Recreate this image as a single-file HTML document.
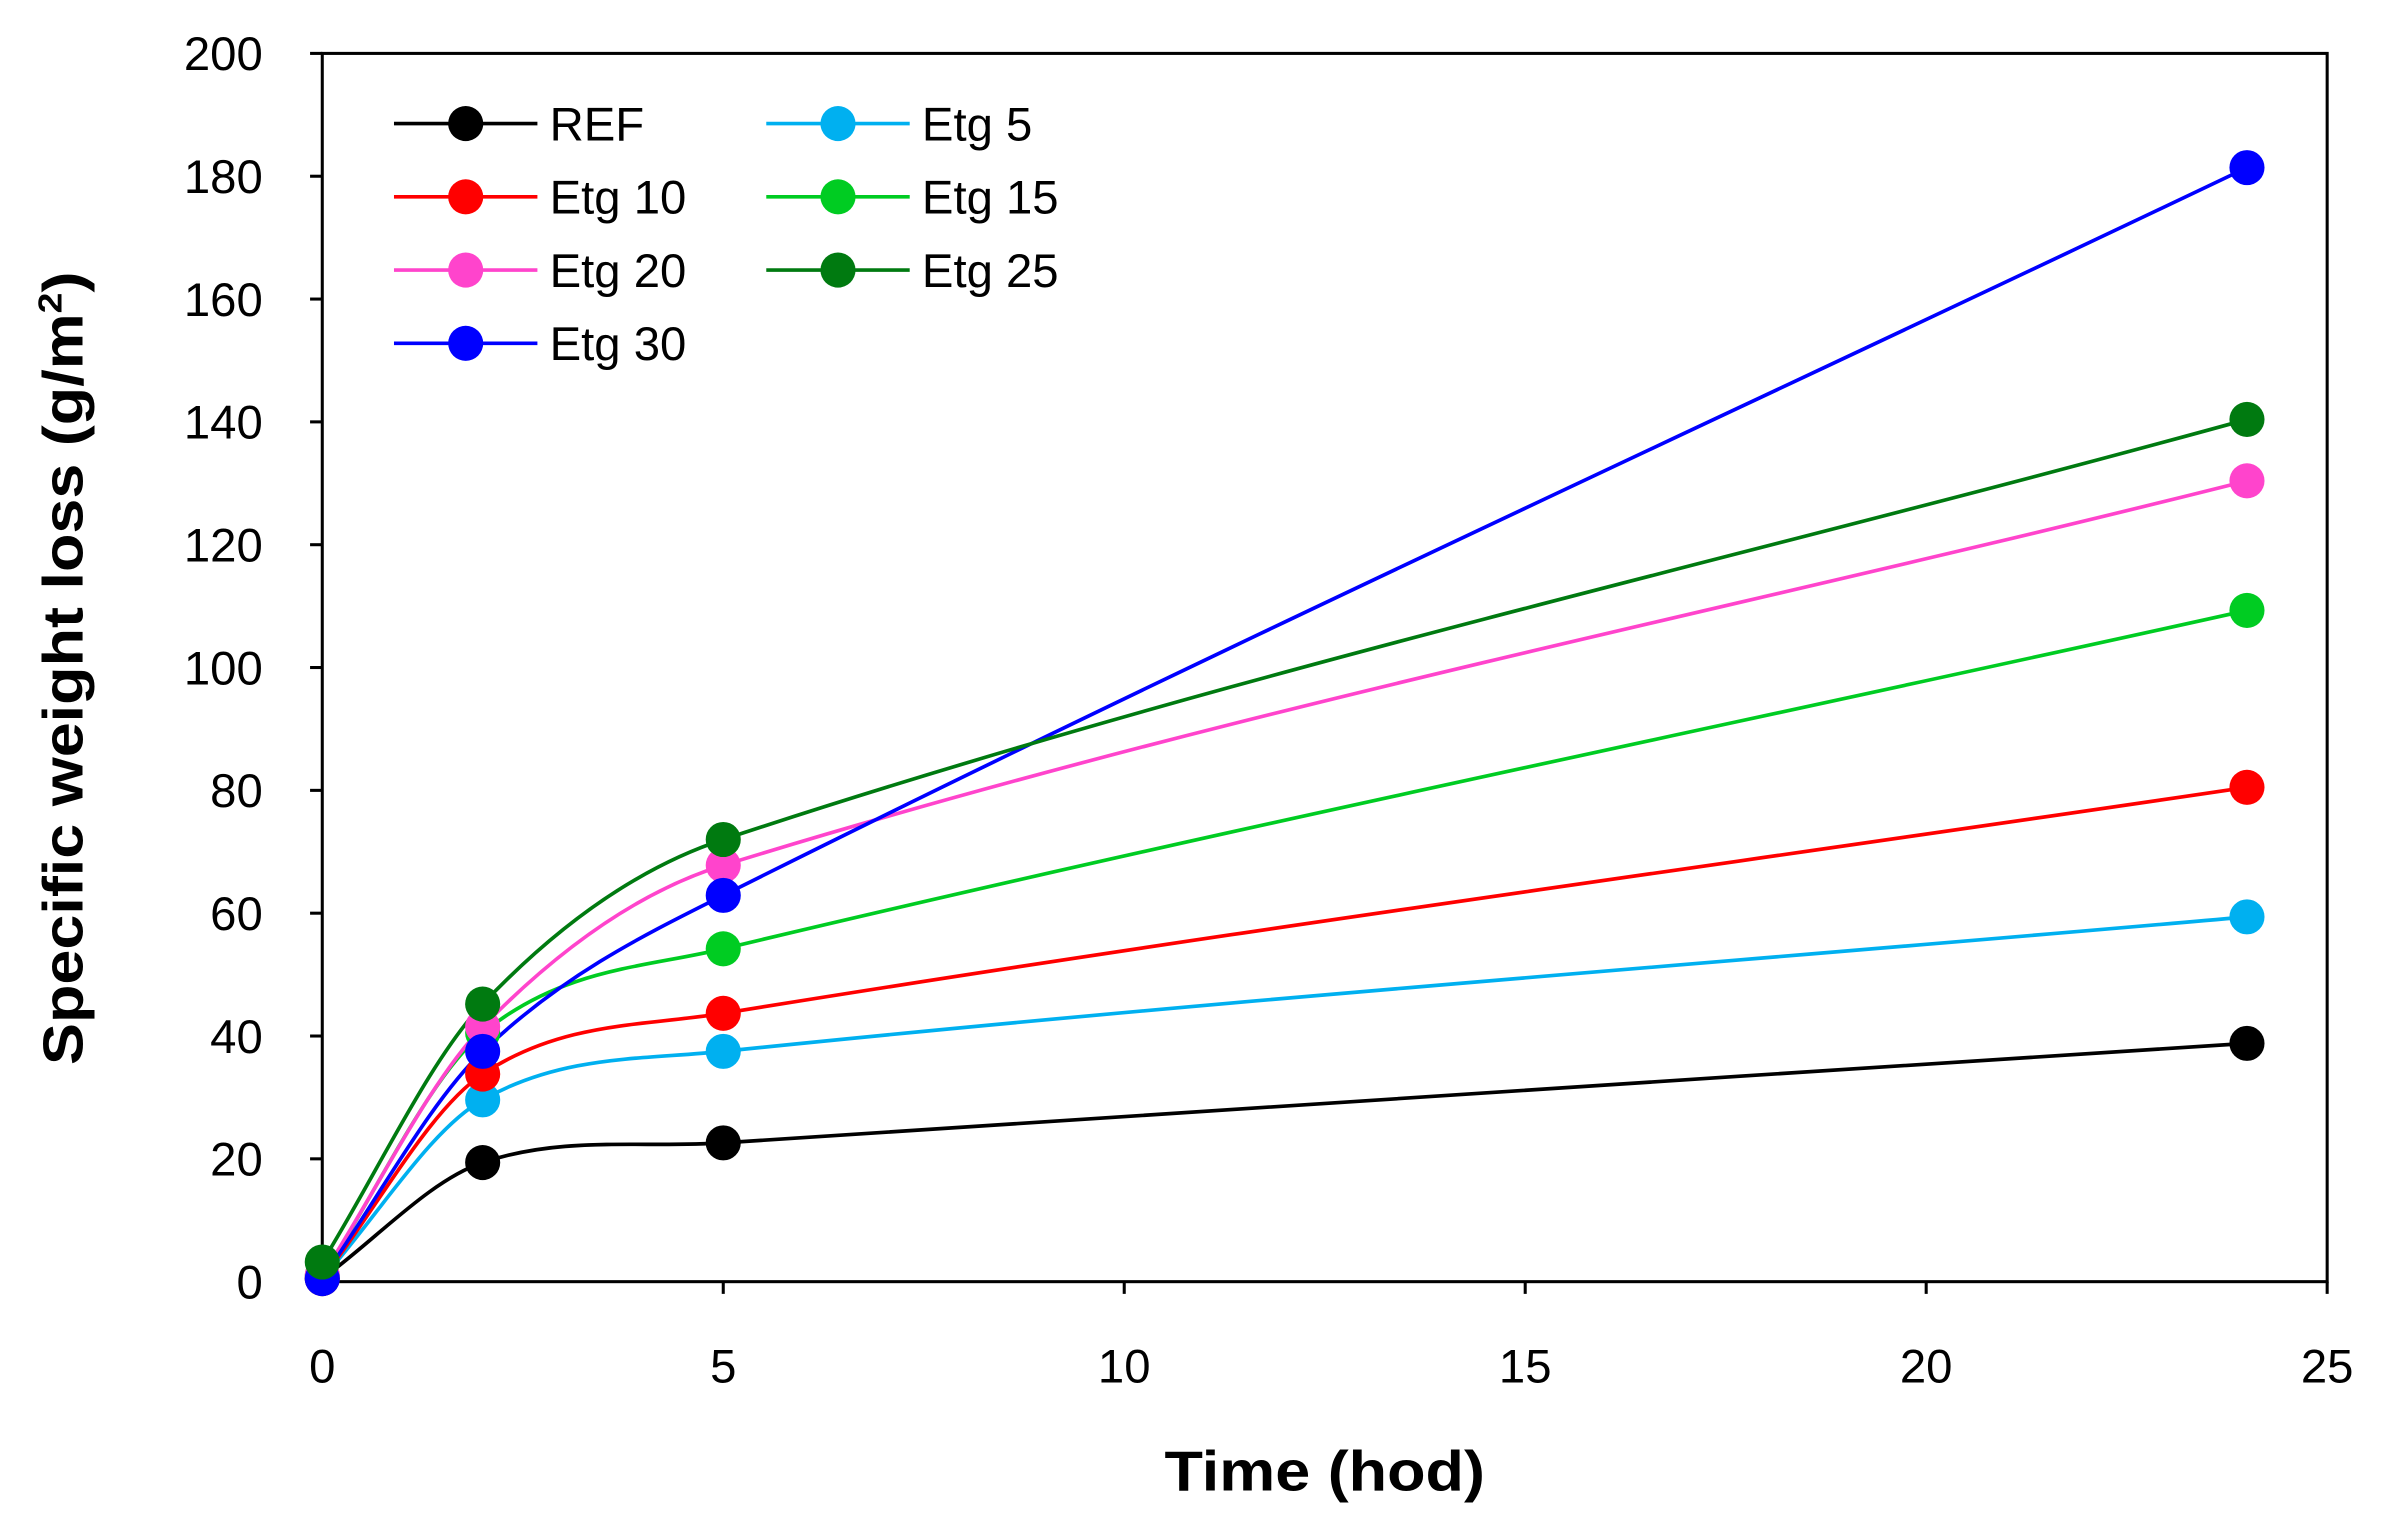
<!DOCTYPE html>
<html><head><meta charset="utf-8"><style>
html,body{margin:0;padding:0;background:#fff;}
svg{display:block;}
text{font-family:"Liberation Sans",sans-serif;fill:#000;}
</style></head>
<body>
<svg id="chart" width="2387" height="1538" viewBox="0 0 1564 1008" xmlns="http://www.w3.org/2000/svg">
<g id="axes"></g>
<g id="series"></g>
<g id="legend"></g>
<text x="868" y="977" text-anchor="middle" font-size="37" font-weight="bold" textLength="210" lengthAdjust="spacingAndGlyphs">Time (hod)</text>
<text transform="translate(54,438) rotate(-90)" text-anchor="middle" font-size="37" font-weight="bold" textLength="520" lengthAdjust="spacingAndGlyphs">Specific weight loss (g/m<tspan font-size="22" dy="-14">2</tspan><tspan dy="14">)</tspan></text>
</svg>
<script>
const times = [0, 2, 5, 24];
const seriesNames = ["REF","Etg 5","Etg 10","Etg 15","Etg 20","Etg 25","Etg 30"];
const seriesColors = ["#000000","#00b0f0","#ff0000","#00cc22","#ff44cc","#007a10","#0000ff"];
const refValues = [0.5, 19.4, 22.6, 38.8];
const etg5Values = [0.5, 29.6, 37.5, 59.4];
const etg10Values = [0.5, 33.8, 43.7, 80.5];
const etg15Values = [1.0, 40.5, 54.2, 109.3];
const etg20Values = [1.0, 41.5, 67.8, 130.4];
const etg25Values = [3.2, 45.2, 72.0, 140.4];
const etg30Values = [0.5, 37.5, 62.9, 181.4];
const xTicks = [0, 5, 10, 15, 20, 25];
const yTicks = [0, 20, 40, 60, 80, 100, 120, 140, 160, 180, 200];
const allValues = [refValues, etg5Values, etg10Values, etg15Values, etg20Values, etg25Values, etg30Values];
const drawOrder = [0,1,2,3,4,6,5];

const NS = "http://www.w3.org/2000/svg";
const L=211, R=1525, T=35, B=840;
const xS = v => L + (v/25)*(R-L);
const yS = v => B - (v/200)*(B-T);
function mk(tag, attrs, parent){const e=document.createElementNS(NS,tag);for(const k in attrs)e.setAttribute(k,attrs[k]);parent.appendChild(e);return e;}

const axes=document.getElementById('axes');
let frame=mk('rect',{x:L,y:T,width:R-L,height:B-T,fill:'none',stroke:'#000','stroke-width':2},axes);


yTicks.forEach(v=>{
  let t=mk('line',{x1:L-8,x2:L,y1:yS(v),y2:yS(v),stroke:'#000','stroke-width':2},axes);
  
  
  let l=mk('text',{x:172,y:yS(v)+11,'text-anchor':'end','font-size':31},axes);
  
  
  l.textContent=v;
});
xTicks.forEach(v=>{
  let t=mk('line',{x1:xS(v),x2:xS(v),y1:B,y2:B+8,stroke:'#000','stroke-width':2},axes);
  
  
  let l=mk('text',{x:xS(v),y:906,'text-anchor':'middle','font-size':31},axes);
  
  
  l.textContent=v;
});

function smooth(pts){
  const n=pts.length, m=[];
  for(let i=0;i<n;i++){
    const a=pts[Math.max(0,i-1)], b=pts[Math.min(n-1,i+1)];
    m.push((b[1]-a[1])/(b[0]-a[0]));
  }
  let d=`M${pts[0][0]},${pts[0][1]}`;
  for(let i=0;i<n-1;i++){
    const p1=pts[i],p2=pts[i+1],dx=(p2[0]-p1[0])/3;
    d+=` C${p1[0]+dx},${p1[1]+m[i]*dx} ${p2[0]-dx},${p2[1]-m[i+1]*dx} ${p2[0]},${p2[1]}`;
  }
  return d;
}
const sg=document.getElementById('series');
drawOrder.forEach(i=>{
  const vals=allValues[i];
  const pts=times.map((t,j)=>[xS(t),yS(vals[j])]);
  let p=mk('path',{d:smooth(pts),fill:'none',stroke:seriesColors[i],'stroke-width':2.4},sg);
  
  
});
drawOrder.forEach(i=>{
  const vals=allValues[i];
  times.forEach((t,j)=>{
    let c=mk('circle',{cx:xS(t),cy:yS(vals[j]),r:11.5,fill:seriesColors[i]},sg);
    
    
  });
});

const lg=document.getElementById('legend');
seriesNames.forEach((n,i)=>{
  const rowIdx = i===0?0:(i===1?0:(i===2?1:(i===3?1:(i===4?2:(i===5?2:3)))));
  const colIdx = (i===1||i===3||i===5)?1:0;
  const x0 = colIdx? 502:258;
  const y0 = 81 + rowIdx*48;
  let g=mk('g',{},lg);
  
  
  mk('line',{x1:x0,x2:x0+94,y1:y0,y2:y0,stroke:seriesColors[i],'stroke-width':2.4},g);
  mk('circle',{cx:x0+47,cy:y0,r:11.5,fill:seriesColors[i]},g);
  let t=mk('text',{x:x0+102,y:y0+11,'font-size':31},g);
  t.textContent=n;
});
</script>
</body></html>
